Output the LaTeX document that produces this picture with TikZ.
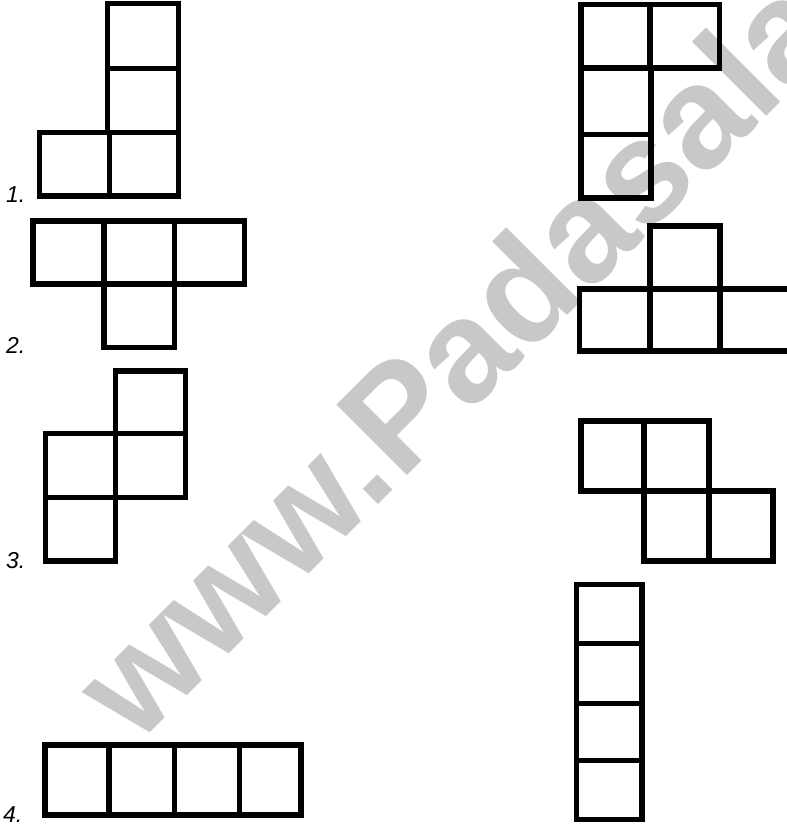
\documentclass[tikz,border=0pt]{standalone}
\usepackage{fontspec}
\setmainfont{Liberation Sans}
\definecolor{wmgray}{RGB}{200,200,200}
\begin{document}
\begin{tikzpicture}[x=1pt,y=-1pt,
  cell/.style={line width=5.5pt, draw=black, line join=miter},
  lbl/.style={anchor=base west, inner sep=0pt, font=\fontsize{23}{23}\selectfont\itshape},
  wm/.style={anchor=base west, inner sep=0pt, text=wmgray, rotate=45, font=\fontsize{145}{145}\selectfont\bfseries}]
\clip (0,0) rectangle (787,825);
\fill[white] (0,0) rectangle (787,825);
% watermark
\node[wm] (wm) at (136,747) {www.Padasalai};
% labels
\node[lbl] (l1) at (6,202) {1.};
\node[lbl] (l2) at (6,353) {2.};
\node[lbl] (l3) at (6,568) {3.};
\node[lbl] (l4) at (3,822) {4.};
% figure 1 left
\draw[cell] (107.5,3.5) rectangle (178.5,68.5);
\draw[cell] (107.5,68.5) rectangle (178.5,132.5);
\draw[cell] (39.5,132.5) rectangle (109.5,196);
\draw[cell] (109.5,132.5) rectangle (178.5,196);
% figure 1 right
\draw[cell] (581,4.5) rectangle (650,68);
\draw[cell] (650,4.5) rectangle (719.5,68);
\draw[cell] (581,68) rectangle (651,134.5);
\draw[cell] (581,134.5) rectangle (651,198);
% figure 2 left
\draw[cell] (33,221) rectangle (104,284);
\draw[cell] (104,221) rectangle (174.5,284);
\draw[cell] (174.5,221) rectangle (244.5,284);
\draw[cell] (104,284) rectangle (174.5,347.5);
% figure 2 right
\draw[cell] (650,226) rectangle (720,289);
\draw[cell] (579.5,289) rectangle (650,351);
\draw[cell] (650,289) rectangle (720,351);
\draw[cell] (720,289) -- (795,289);
\draw[cell] (720,351) -- (795,351);
% figure 3 left
\draw[cell] (115.5,371) rectangle (185.5,433.5);
\draw[cell] (45.5,433.5) rectangle (115.5,497.5);
\draw[cell] (115.5,433.5) rectangle (185.5,497.5);
\draw[cell] (45.5,497.5) rectangle (115.5,561);
% figure 3 right
\draw[cell] (581,421) rectangle (644,491);
\draw[cell] (644,421) rectangle (709,491);
\draw[cell] (644,491) rectangle (709,561);
\draw[cell] (709,491) rectangle (773,561);
% figure 4 left
\draw[cell] (45,745) rectangle (109,815);
\draw[cell] (109,745) rectangle (174.5,815);
\draw[cell] (174.5,745) rectangle (239.5,815);
\draw[cell] (239.5,745) rectangle (301,815);
% figure 4 right
\draw[cell] (576.5,584.5) rectangle (642,643.5);
\draw[cell] (576.5,643.5) rectangle (642,703.5);
\draw[cell] (576.5,703.5) rectangle (642,760.5);
\draw[cell] (576.5,760.5) rectangle (642,819.5);
\end{tikzpicture}
\end{document}
